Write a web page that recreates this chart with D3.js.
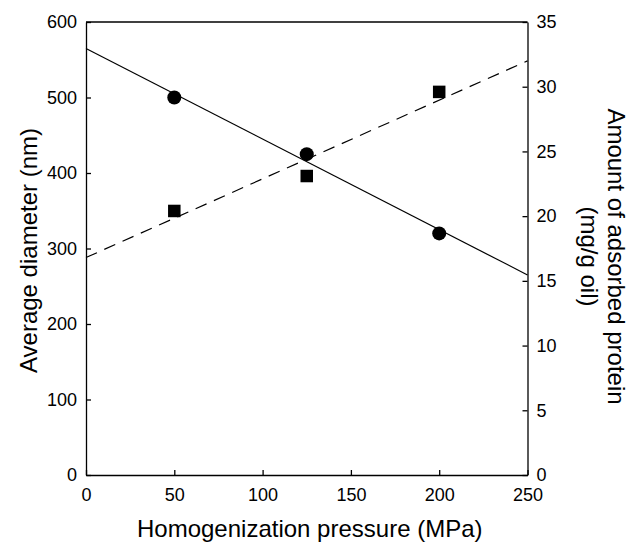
<!DOCTYPE html>
<html>
<head>
<meta charset="utf-8">
<script src="https://cdn.jsdelivr.net/npm/d3@7"></script>
<style>
  body { margin: 0; background: #fff; }
  text { font-family: "Liberation Sans", Arial, sans-serif; fill: #000; }
</style>
</head>
<body>
<div id="chart"></div>
<script>
// Values
var pressure = [50, 125, 200];
var diameter = [500, 425, 320];       // nm, circles, left axis
var protein = [20.4, 23.1, 29.6];     // mg/g oil, squares, right axis
var fitX = [0, 250];
var diameterFit = [565, 265];         // solid line
var proteinFit = [16.8, 32.0];        // dashed line

var xTicks = [0, 50, 100, 150, 200, 250];
var leftTicks = [0, 100, 200, 300, 400, 500, 600];
var rightTicks = [0, 5, 10, 15, 20, 25, 30, 35];

const margin = { top: 22, right: 100.5, bottom: 69, left: 86 },
    width = 628 - margin.left - margin.right,
    height = 544 - margin.top - margin.bottom;

const svg = d3.select("#chart")
    .append("svg")
    .attr("width", 628)
    .attr("height", 544)
    .append("g")
    .attr("transform", `translate(${margin.left},${margin.top})`);

const x = d3.scaleLinear().domain([0, 250]).range([0, width]);
const yL = d3.scaleLinear().domain([0, 600]).range([height, 0]);
const yR = d3.scaleLinear().domain([0, 35]).range([height, 0]);

function styleAxis(g) {
    g.selectAll("path, line").attr("stroke", "#000").attr("stroke-width", 1.3);
    g.selectAll("text").attr("font-size", "18px").attr("font-family", "Liberation Sans, Arial, sans-serif").attr("fill", "#000");
}

svg.append("g")
    .attr("transform", `translate(0,${height})`)
    .call(d3.axisBottom(x).tickValues(xTicks).tickSizeInner(-5).tickSizeOuter(0).tickPadding(13))
    .call(styleAxis);

svg.append("g")
    .call(d3.axisLeft(yL).tickValues(leftTicks).tickSizeInner(-5).tickSizeOuter(0).tickPadding(9))
    .call(styleAxis);

svg.append("g")
    .attr("transform", `translate(${width},0)`)
    .call(d3.axisRight(yR).tickValues(rightTicks).tickSizeInner(-5).tickSizeOuter(0).tickPadding(9))
    .call(styleAxis);

// top frame
svg.append("line")
    .attr("x1", 0).attr("x2", width)
    .attr("y1", 0).attr("y2", 0)
    .attr("stroke", "#000").attr("stroke-width", 1.3);

// fitted lines
svg.append("path")
    .datum(fitX.map((v, i) => [v, diameterFit[i]]))
    .attr("fill", "none")
    .attr("stroke", "#000")
    .attr("stroke-width", 1.2)
    .attr("d", d3.line().x(d => x(d[0])).y(d => yL(d[1])));

svg.append("path")
    .datum(fitX.map((v, i) => [v, proteinFit[i]]))
    .attr("fill", "none")
    .attr("stroke", "#000")
    .attr("stroke-width", 1.2)
    .attr("stroke-dasharray", "12,8")
    .attr("d", d3.line().x(d => x(d[0])).y(d => yR(d[1])));

// circles
svg.selectAll(".dot")
    .data(pressure)
    .enter().append("circle")
    .attr("class", "dot")
    .attr("cx", d => x(d))
    .attr("cy", (d, i) => yL(diameter[i]))
    .attr("r", 7)
    .attr("fill", "#000");

// squares
var s = 12.5;
svg.selectAll(".sq")
    .data(pressure)
    .enter().append("rect")
    .attr("class", "sq")
    .attr("x", d => x(d) - s / 2)
    .attr("y", (d, i) => yR(protein[i]) - s / 2)
    .attr("width", s)
    .attr("height", s)
    .attr("fill", "#000");

// axis titles
svg.append("text")
    .attr("x", width / 2 + 3)
    .attr("y", height + 62)
    .attr("text-anchor", "middle")
    .attr("font-size", "24px")
    .text("Homogenization pressure (MPa)");

svg.append("text")
    .attr("transform", `translate(${-49},${height / 2 + 2}) rotate(-90)`)
    .attr("text-anchor", "middle")
    .attr("font-size", "24px")
    .text("Average diameter (nm)");

const rt = svg.append("text")
    .attr("transform", `translate(${width + 80},${height / 2 + 8}) rotate(90)`)
    .attr("text-anchor", "middle")
    .attr("font-size", "24px");
rt.append("tspan").attr("x", 0).attr("y", 0).text("Amount of adsorbed protein");
rt.append("tspan").attr("x", 0).attr("y", 27).text("(mg/g oil)");
</script>
</body>
</html>
